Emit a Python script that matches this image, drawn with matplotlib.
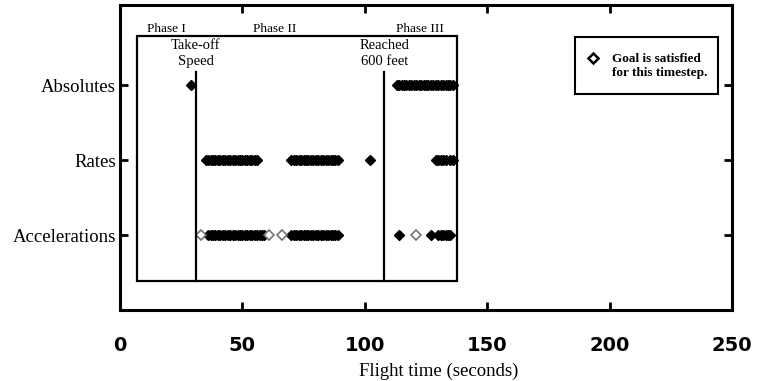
import matplotlib
matplotlib.use('Agg')
import matplotlib.pyplot as plt
from matplotlib.patches import Rectangle

rows = ['Accelerations', 'Rates', 'Absolutes']
row_pos = [1, 2, 3]

# seconds at which the goal was satisfied
absolutes_t = [29, 113, 114, 115, 116, 117, 118, 119, 120, 121, 122, 123, 124,
               125, 126, 127, 128, 129, 130, 131, 132, 133, 134, 135, 136]
rates_t = [35, 36, 37, 38, 39, 40, 41, 42, 43, 44, 45, 46, 47, 48, 49, 50, 51,
           52, 53, 54, 55, 56, 70, 71, 72, 73, 74, 75, 76, 77, 78, 79, 80, 81,
           82, 83, 84, 85, 86, 87, 88, 89, 102, 129, 130, 131, 132, 133, 135, 136]
accel_t = [36, 37, 38, 39, 40, 41, 42, 43, 44, 45, 46, 47, 48, 49, 50, 51, 52,
           53, 54, 55, 56, 57, 58, 59, 70, 71, 72, 73, 74, 75, 76, 77, 78, 79,
           80, 81, 82, 83, 84, 85, 86, 87, 88, 89, 114, 127, 130, 131, 132,
           133, 134, 135]
accel_faint_t = [33, 61, 66, 121]

takeoff_t = 31
feet600_t = 108
window = (6.8, 137.5)

phases = ['Phase I', 'Phase II', 'Phase III']
phase_x = [19, 63, 122.5]

serif = 'Liberation Serif'

fig = plt.figure(figsize=(7.59, 3.81), dpi=100)
ax = fig.add_axes([120 / 759, 71 / 381, 612 / 759, 305 / 381])

mk = dict(marker='D', linestyle='none', markersize=5.3)
ax.plot(absolutes_t, [3] * len(absolutes_t), color='black', **mk)
ax.plot(rates_t, [2] * len(rates_t), color='black', **mk)
ax.plot(accel_t, [1] * len(accel_t), color='black', **mk)
ax.plot(accel_faint_t, [1] * len(accel_faint_t), markerfacecolor='white',
        markeredgecolor='0.45', markeredgewidth=1.2, **mk)

# data window and event lines
ax.add_patch(Rectangle((window[0], 0.387), window[1] - window[0], 3.65 - 0.387,
                       fill=False, lw=1.6, color='black'))
ax.plot([takeoff_t, takeoff_t], [0.387, 3.17], color='black', lw=1.6)
ax.plot([feet600_t, feet600_t], [0.387, 3.17], color='black', lw=1.6)

ax.text(takeoff_t, 3.42, 'Take-off\nSpeed', ha='center', va='center',
        family=serif, fontsize=10.5, linespacing=1.35)
ax.text(feet600_t, 3.42, 'Reached\n600 feet', ha='center', va='center',
        family=serif, fontsize=10.5, linespacing=1.35)
for name, px in zip(phases, phase_x):
    ax.text(px, 3.67, name, ha='center', va='bottom', family=serif, fontsize=9.5)

# legend box
ax.add_patch(Rectangle((455 / 612, 216 / 305), 143 / 612, 57 / 305,
                       transform=ax.transAxes, fill=False, lw=1.5, color='black'))
ax.plot([473 / 612], [252 / 305], transform=ax.transAxes, marker='D',
        markersize=5, markerfacecolor='white', markeredgecolor='black',
        markeredgewidth=1.8)
ax.text(492 / 612, 244 / 305, 'Goal is satisfied\nfor this timestep.',
        transform=ax.transAxes, ha='left', va='center', family=serif,
        fontsize=9.5, fontweight='bold', linespacing=1.3)

ax.set_xlim(0, 250)
ax.set_ylim(0, 4.07)
ax.set_xticks([0, 50, 100, 150, 200, 250])
ax.set_yticks(row_pos)
ax.set_yticklabels(rows, family=serif, fontsize=13.5)
for lab in ax.get_xticklabels():
    lab.set_fontweight('bold')
    lab.set_fontsize(14)
ax.tick_params(axis='both', direction='in', length=6, width=2,
               top=True, right=True)
ax.tick_params(axis='x', pad=19)
ax.tick_params(axis='y', pad=3)
for s in ax.spines.values():
    s.set_linewidth(2.2)

ax.set_xlabel('Flight time (seconds)', family=serif, fontsize=13.5)
ax.xaxis.label.set_va('center')
ax.xaxis.set_label_coords(319 / 612, -0.2)

fig.savefig('out.png', dpi=100)
